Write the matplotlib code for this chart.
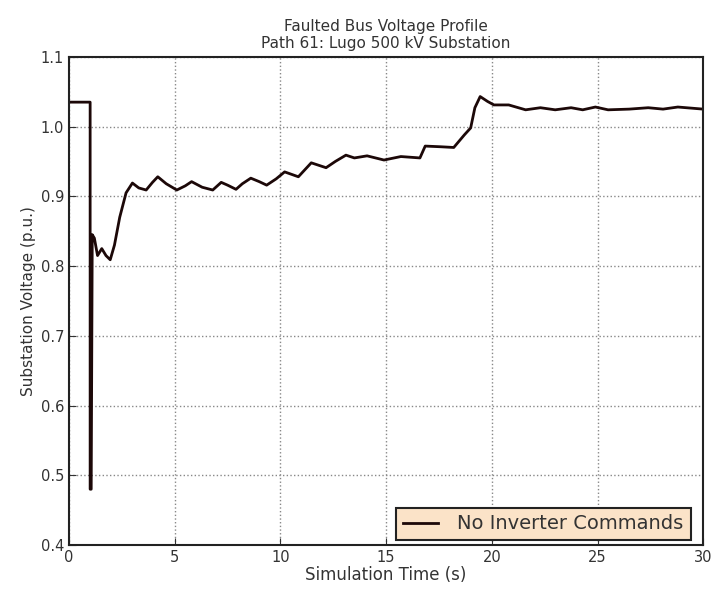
import matplotlib.pyplot as plt

t = [0.0, 1.0, 1.0, 1.05, 1.1, 1.2, 1.35, 1.55, 1.75, 1.95, 2.15, 2.4, 2.7, 3.0,
     3.3, 3.65, 3.95, 4.2, 4.6, 5.1, 5.5, 5.8, 6.3, 6.8, 7.2, 7.5, 7.9, 8.2, 8.6,
     9.0, 9.35, 9.8, 10.2, 10.85, 11.46, 12.16, 12.6, 13.1, 13.5, 14.1, 14.9,
     15.7, 16.6, 16.85, 17.6, 18.2, 18.7, 19.0, 19.2, 19.45, 19.8, 20.1, 20.8,
     21.6, 22.3, 23.0, 23.75, 24.3, 24.9, 25.5, 26.5, 27.4, 28.1, 28.8, 30.0]
v = [1.035, 1.035, 0.48, 0.48, 0.845, 0.84, 0.815, 0.825, 0.815, 0.809, 0.83, 0.87, 0.905, 0.919,
     0.912, 0.909, 0.92, 0.928, 0.918, 0.909, 0.915, 0.921, 0.913, 0.909, 0.92, 0.916, 0.91, 0.918, 0.926,
     0.921, 0.916, 0.925, 0.935, 0.928, 0.948, 0.941, 0.95, 0.959, 0.955, 0.958, 0.952,
     0.957, 0.955, 0.972, 0.971, 0.970, 0.988, 0.998, 1.027, 1.043, 1.036, 1.031, 1.031,
     1.024, 1.027, 1.024, 1.027, 1.024, 1.028, 1.024, 1.025, 1.027, 1.025, 1.028, 1.025]

xticks = [0, 5, 10, 15, 20, 25, 30]
yticks = [0.4, 0.5, 0.6, 0.7, 0.8, 0.9, 1.0, 1.1]

fig = plt.figure(figsize=(7.15, 5.98), dpi=100)
ax = fig.add_axes([0.0965, 0.0886, 0.887, 0.8164])
ax.plot(t, v, color='#1c0808', linewidth=2, label='No Inverter Commands')

ax.set_xlim(0, 30)
ax.set_ylim(0.4, 1.1)
ax.set_xticks(xticks)
ax.set_yticks(yticks)
ax.set_yticklabels(['%.1f' % y for y in yticks])
ax.tick_params(labelsize=10.5, direction='in', length=5, colors='#333333')
ax.grid(True, linestyle=':', color='#888888', linewidth=1)
for s in ax.spines.values():
    s.set_linewidth(1.5)
    s.set_color('#222222')

ax.set_xlabel('Simulation Time (s)', fontsize=12, color='#333333', labelpad=1)
ax.set_ylabel('Substation Voltage (p.u.)', fontsize=11, color='#333333', labelpad=3)
ax.set_title('Faulted Bus Voltage Profile\nPath 61: Lugo 500 kV Substation',
             fontsize=11, color='#333333', linespacing=1.2, pad=6)

leg = ax.legend(loc='lower right', bbox_to_anchor=(0.98, 0.01), fontsize=14,
                fancybox=False, framealpha=1, borderpad=0.35, handlelength=1.8,
                handletextpad=1.0, borderaxespad=0)
leg.get_frame().set_facecolor('#fbe3c8')
leg.get_frame().set_edgecolor('#222222')
leg.get_frame().set_linewidth(1.5)
for txt in leg.get_texts():
    txt.set_color('#333333')

plt.savefig('out.png', dpi=100)
